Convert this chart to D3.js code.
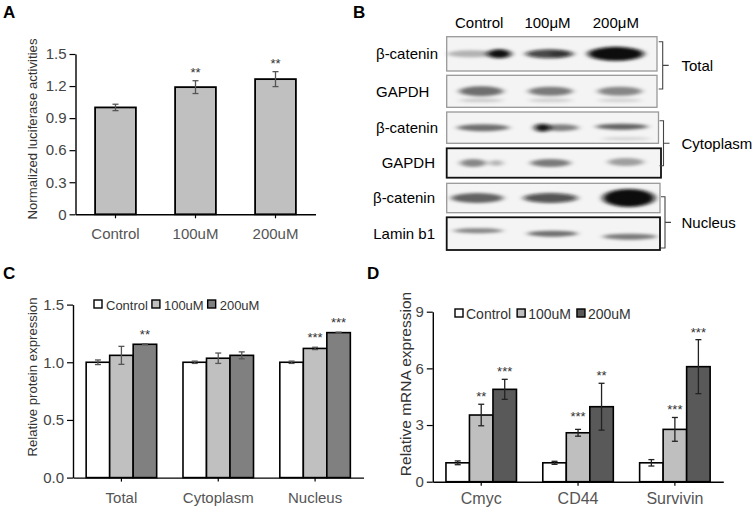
<!DOCTYPE html>
<html>
<head>
<meta charset="utf-8">
<script src="https://cdn.jsdelivr.net/npm/d3@7"></script>
<style>
  body { margin: 0; background: #fff; }
  svg { display: block; font-family: "Liberation Sans", Arial, sans-serif; }
</style>
</head>
<body>
<svg id="fig" width="754" height="511"></svg>
<script>
// ---- panel A: luciferase
var lucGroups = ["Control", "100uM", "200uM"];
var lucMean = [1.0, 1.19, 1.265];
var lucErr = [0.03, 0.06, 0.07];
var lucStars = ["", "**", "**"];
var lucTicks = [0, 0.3, 0.6, 0.9, 1.2, 1.5];

// ---- panel B: western blot
var blotLanes = ["Control", "100μM", "200μM"];
var blotRows = ["β-catenin", "GAPDH", "β-catenin", "GAPDH", "β-catenin", "Lamin b1"];
var blotFractions = ["Total", "Cytoplasm", "Nucleus"];
// band darkness, row x lane (0..1)
var blotDensity = [
  [0.9, 0.75, 1.0],
  [0.55, 0.5, 0.45],
  [0.55, 0.6, 0.6],
  [0.45, 0.5, 0.35],
  [0.6, 0.7, 1.0],
  [0.45, 0.55, 0.5]
];

// ---- panels C and D
var treatments = ["Control", "100uM", "200uM"];

var proteinGroups = ["Total", "Cytoplasm", "Nucleus"];
var proteinMean = [[1.0, 1.06, 1.156], [1.0, 1.035, 1.06], [1.0, 1.12, 1.257]];
var proteinErr = [[0.02, 0.078, 0.004], [0.01, 0.045, 0.03], [0.01, 0.01, 0.004]];
var proteinStars = [["", "", "**"], ["", "", ""], ["", "***", "***"]];
var proteinTicks = [0, 0.5, 1.0, 1.5];

var mrnaGroups = ["Cmyc", "CD44", "Survivin"];
var mrnaMean = [[1.0, 3.53, 4.89], [1.0, 2.59, 3.97], [1.0, 2.77, 6.09]];
var mrnaErr = [[0.1, 0.57, 0.53], [0.08, 0.18, 1.24], [0.17, 0.63, 1.43]];
var mrnaStars = [["", "**", "***"], ["", "***", "**"], ["", "***", "***"]];
var mrnaTicks = [0, 3, 6, 9];

var svg = d3.select("#fig");
svg.append("rect").attr("width", 754).attr("height", 511).attr("fill", "#fff");

function letter(t, x, y) {
  svg.append("text").attr("x", x).attr("y", y)
    .attr("font-size", 17).attr("font-weight", "bold").attr("fill", "#000")
    .text(t);
}

function styleAxis(g, size, color) {
  g.select(".domain").attr("stroke", "#000").attr("stroke-width", 1.4);
  g.selectAll(".tick line").attr("stroke", "#000").attr("stroke-width", 1.2);
  g.selectAll("text").attr("font-size", size).attr("fill", color)
    .attr("font-family", "Liberation Sans, Arial, sans-serif");
}

function yLabel(t, x, y, size) {
  svg.append("text")
    .attr("transform", "translate(" + x + "," + y + ") rotate(-90)")
    .attr("text-anchor", "middle").attr("font-size", size).attr("fill", "#333")
    .text(t);
}

function errBar(g, cx, y0, y1, color) {
  g.append("line").attr("x1", cx).attr("x2", cx).attr("y1", y0).attr("y2", y1)
    .attr("stroke", color).attr("stroke-width", 1.3);
  [y0, y1].forEach(function(yy) {
    g.append("line").attr("x1", cx - 3).attr("x2", cx + 3).attr("y1", yy).attr("y2", yy)
      .attr("stroke", color).attr("stroke-width", 1.3);
  });
}

function stars(g, t, cx, baseline) {
  if (!t) return;
  g.append("text").attr("x", cx).attr("y", baseline)
    .attr("text-anchor", "middle").attr("font-size", 13).attr("fill", "#333")
    .text(t);
}

// ================= A =================
letter("A", 3, 18);
(function() {
  var g = svg.append("g");
  var x = d3.scaleBand().domain(lucGroups).range([75.5, 315.5]).paddingInner(0.49).paddingOuter(0.245);
  var y = d3.scaleLinear().domain([0, 1.5]).range([214.3, 54]);

  g.selectAll("rect.bar").data(lucMean).enter().append("rect")
    .attr("class", "bar")
    .attr("x", function(d, i) { return x(lucGroups[i]); })
    .attr("y", function(d) { return y(d); })
    .attr("width", x.bandwidth())
    .attr("height", function(d) { return y(0) - y(d); })
    .attr("fill", "#c0c0c0").attr("stroke", "#000").attr("stroke-width", 1.8);

  lucMean.forEach(function(d, i) {
    var cx = x(lucGroups[i]) + x.bandwidth() / 2;
    errBar(g, cx, y(d + lucErr[i]), y(d - lucErr[i]), "#555");
    stars(g, lucStars[i], cx, y(d + lucErr[i]) - 4);
  });

  var ya = g.append("g").attr("transform", "translate(75.5,0)")
    .call(d3.axisLeft(y).tickValues(lucTicks).tickSize(6).tickPadding(3).tickSizeOuter(0)
      .tickFormat(function(d) { return d === 0 ? "0" : d3.format(".1f")(d); }));
  styleAxis(ya, 15, "#444");

  var xa = g.append("g").attr("transform", "translate(0,214.3)")
    .call(d3.axisBottom(x).tickSize(4).tickPadding(10).tickSizeOuter(0));
  styleAxis(xa, 15, "#555");

  yLabel("Normalized luciferase activities", 36.5, 129, 13.2);
})();

// ================= B =================
letter("B", 353, 17.5);
(function() {
  var g = svg.append("g");
  var lane = d3.scaleBand().domain(blotLanes).range([445, 650]);
  var boxTop = [36.7, 75.3, 112, 148.3, 183.3, 217.3];
  var boxBot = [71, 107.3, 143.3, 177.7, 212.7, 250];
  var boxRight = [657, 657, 658.5, 661, 660, 660];
  var boxDark = [false, false, false, true, false, true];

  // blob shapes per row / lane: [dx, dy, rx, ry, weight]
  var shapes = [
    [[[-8, 0, 24, 3.5, 0.3], [20, 0, 12, 4.5, 1.1]], [[2, 0, 24, 4.5, 1], [12, 0, 10, 3.5, 0.5]], [[0, 0, 28, 7, 1], [0, 0, 20, 5.5, 1.2]]],
    [[[2, 0, 22, 5, 1], [2, 9, 22, 2, 0.3]], [[3, 0, 22, 4.5, 1], [3, 9, 22, 2, 0.3]], [[4, 0, 22, 4.5, 1], [4, 9, 22, 2, 0.3]]],
    [[[4, 0, 26, 3.5, 1]], [[-5, 0, 8, 4, 1.6], [13, 0, 18, 3.5, 0.8]], [[6, -1, 26, 3, 1], [10, 11, 24, 1.5, 0.25]]],
    [[[-6, 0, 13, 4, 1], [17, 0, 7, 3, 0.6]], [[3, 0, 20, 4, 1]], [[10, -1, 18, 4, 1]]],
    [[[-2, 0, 26, 5, 1]], [[3, 0, 27, 5, 1]], [[13, 0, 26, 9, 1], [13, 0, 20, 7, 1.2]]],
    [[[-1, -3, 25, 2.5, 1]], [[5, 0, 25, 3, 1]], [[14, 3, 27, 3, 1]]]
  ];

  var defs = svg.append("defs");
  defs.append("filter").attr("id", "smear")
    .attr("x", "-50%").attr("y", "-150%").attr("width", "200%").attr("height", "400%")
    .append("feGaussianBlur").attr("stdDeviation", "3 1.6");

  blotLanes.forEach(function(l) {
    g.append("text").attr("x", lane(l) + lane.bandwidth() / 2).attr("y", 28)
      .attr("text-anchor", "middle").attr("font-size", 15).attr("fill", "#000").text(l);
  });

  blotRows.forEach(function(r, i) {
    var cy = (boxTop[i] + boxBot[i]) / 2;
    g.append("rect").attr("x", 446.7).attr("y", boxTop[i])
      .attr("width", boxRight[i] - 446.7).attr("height", boxBot[i] - boxTop[i])
      .attr("fill", "#f4f4f4");

    var bands = g.append("g").attr("filter", "url(#smear)");
    blotLanes.forEach(function(l, j) {
      var cx = lane(l) + lane.bandwidth() / 2;
      shapes[i][j].forEach(function(s) {
        bands.append("ellipse")
          .attr("cx", cx + s[0]).attr("cy", cy + s[1]).attr("rx", s[2]).attr("ry", s[3])
          .attr("fill", "#0a0a0a")
          .attr("fill-opacity", Math.min(1, blotDensity[i][j] * s[4]));
      });
    });

    g.append("rect").attr("x", 446.7).attr("y", boxTop[i])
      .attr("width", boxRight[i] - 446.7).attr("height", boxBot[i] - boxTop[i])
      .attr("fill", "none")
      .attr("stroke", boxDark[i] ? "#111" : "#999")
      .attr("stroke-width", boxDark[i] ? 1.8 : 1.3);

    g.append("text")
      .attr("x", i < 3 ? 376 : 435).attr("y", cy + 5.4)
      .attr("text-anchor", i < 3 ? "start" : "end")
      .attr("font-size", 15).attr("fill", "#000").text(r);
  });

  var brackets = [[41.7, 89, 662.7], [120.7, 165.7, 663.5], [196.7, 248, 665]];
  blotFractions.forEach(function(f, i) {
    var b = brackets[i], mid = (b[0] + b[1]) / 2;
    g.append("path")
      .attr("d", "M" + (b[2] - 4) + "," + b[0] + "H" + b[2] + "V" + b[1] + "H" + (b[2] - 4)
        + "M" + b[2] + "," + mid + "H" + (b[2] + 6))
      .attr("fill", "none").attr("stroke", "#444").attr("stroke-width", 1.1);
    g.append("text").attr("x", 681.5).attr("y", mid + 5.4)
      .attr("font-size", 15).attr("fill", "#000").text(f);
  });
})();

// ================= C & D =================
function grouped(opt) {
  var g = svg.append("g");
  var x0 = d3.scaleBand().domain(opt.groups).range(opt.xr);
  var x1 = d3.scaleBand().domain(treatments).range([0, x0.bandwidth()]).paddingOuter(0.56);
  var y = d3.scaleLinear().domain([0, opt.max]).range(opt.yr);

  opt.groups.forEach(function(grp, i) {
    var gg = g.append("g").attr("transform", "translate(" + x0(grp) + ",0)");
    gg.selectAll("rect").data(opt.mean[i]).enter().append("rect")
      .attr("x", function(d, j) { return x1(treatments[j]); })
      .attr("y", function(d) { return y(d); })
      .attr("width", x1.bandwidth())
      .attr("height", function(d) { return y(0) - y(d); })
      .attr("fill", function(d, j) { return opt.colors[j]; })
      .attr("stroke", "#000").attr("stroke-width", 1.6);
    opt.mean[i].forEach(function(d, j) {
      var cx = x1(treatments[j]) + x1.bandwidth() / 2;
      var e = opt.err[i][j];
      errBar(gg, cx, y(d + e), y(d - e), opt.errColor);
      stars(gg, opt.stars[i][j], cx, opt.starY(y(d), y(d + e)));
    });
  });

  var ya = g.append("g").attr("transform", "translate(" + opt.xr[0] + ",0)")
    .call(d3.axisLeft(y).tickValues(opt.ticks).tickSize(6).tickPadding(3).tickSizeOuter(0)
      .tickFormat(opt.fmt));
  styleAxis(ya, 15, "#444");

  var xa = g.append("g").attr("transform", "translate(0," + opt.yr[0] + ")")
    .call(d3.axisBottom(x0).tickSize(4).tickPadding(opt.xpad).tickSizeOuter(0));
  styleAxis(xa, opt.xSize, "#555");

  yLabel(opt.label, opt.labelX, opt.labelY, opt.labelSize);

  // legend
  var lx = opt.legend[0], ly = opt.legend[1];
  treatments.forEach(function(t, j) {
    g.append("rect").attr("x", lx).attr("y", ly).attr("width", 8).attr("height", 8)
      .attr("fill", opt.colors[j]).attr("stroke", "#000").attr("stroke-width", 1.4);
    var tx = g.append("text").attr("x", lx + 8 + opt.gap[0]).attr("y", ly + 9.5)
      .attr("font-size", opt.legendSize).attr("fill", "#333").text(t);
    lx = lx + 8 + opt.gap[0] + tx.node().getComputedTextLength() + opt.gap[1];
  });
}

letter("C", 3, 279);
grouped({
  groups: proteinGroups, mean: proteinMean, err: proteinErr, stars: proteinStars,
  ticks: proteinTicks, max: 1.5, xr: [73, 363.5], yr: [477.6, 304.6],
  colors: ["#ffffff", "#c0c0c0", "#808080"], errColor: "#555",
  fmt: d3.format(".1f"), xpad: 11, xSize: 15,
  starY: function(top, etop) { return etop - 5; },
  label: "Relative protein expression", labelX: 36.5, labelY: 377, labelSize: 13.2,
  legend: [94, 300], gap: [4, 4], legendSize: 13
});

letter("D", 367, 279);
grouped({
  groups: mrnaGroups, mean: mrnaMean, err: mrnaErr, stars: mrnaStars,
  ticks: mrnaTicks, max: 9, xr: [432.8, 723.3], yr: [481.7, 311.7],
  colors: ["#ffffff", "#bfbfbf", "#595959"], errColor: "#222",
  fmt: d3.format("d"), xpad: 7, xSize: 16,
  starY: function(top, etop) { return Math.min(top - 19, etop - 10) + 7; },
  label: "Relative mRNA expression", labelX: 410.5, labelY: 384, labelSize: 15.5,
  legend: [455, 309], gap: [3, 6], legendSize: 14
});
</script>
</body>
</html>
